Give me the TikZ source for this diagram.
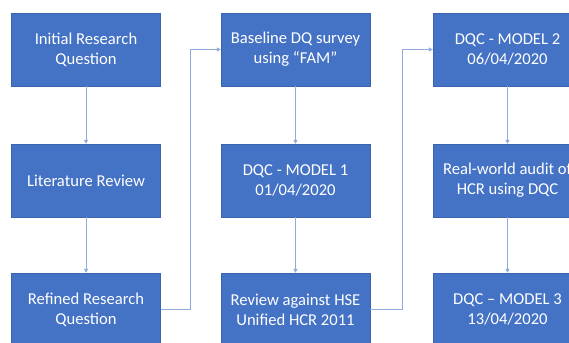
\documentclass[tikz,border=0pt]{standalone}
\usepackage{fontspec}
\setmainfont{Carlito}
\usepackage{xcolor}
\usepackage{tikz}
\definecolor{boxblue}{HTML}{4472C4}
\definecolor{boxedge}{HTML}{3A64AE}
\definecolor{linkblue}{HTML}{8FAADC}
\usetikzlibrary{arrows.meta,positioning}

\begin{document}
\begin{tikzpicture}[x=1pt, y=-1pt, every node/.style={font=\fontsize{16.6}{20}\selectfont}]
    % Define styles
    \tikzstyle{stage} = [rectangle, draw=boxedge, line width=0.4pt, fill=boxblue, text=white,
                         minimum width=149pt, minimum height=73pt, align=center, inner sep=2pt]
    \tikzstyle{link} = [-{Triangle[length=4pt, width=4pt, fill=boxblue]}, draw=linkblue, line width=1pt]

    \useasboundingbox (0,0) rectangle (569,342);
    \clip (0,0) rectangle (569,342);

    % Column 1: research question
    \node[stage] (initial) at (86,49.5) {Initial Research\\Question};
    \node[stage] (litreview) at (86,180.5) {Literature Review};
    \node[stage] (refined) at (86,309.5) {Refined Research\\Question};

    % Column 2: baseline and first model
    \node[stage] (baseline) at (295.5,49.5) {Baseline DQ survey\\using “FAM”};
    \node[stage] (model1) at (295.5,180.5) {DQC - MODEL 1\\01/04/2020};
    \node[stage] (hsereview) at (295.5,309.5) {Review against HSE\\Unified HCR 2011};

    % Column 3: later models and audit
    \node[stage] (model2) at (507.5,49.5) {DQC - MODEL 2\\06/04/2020};
    \node[stage] (audit) at (507.5,180.5) {Real-world audit of\\HCR using DQC};
    \node[stage] (model3) at (507.5,309.5) {DQC – MODEL 3\\13/04/2020};

    % Flow down each column
    \draw[link] (initial) -- (litreview);
    \draw[link] (litreview) -- (refined);
    \draw[link] (baseline) -- (model1);
    \draw[link] (model1) -- (hsereview);
    \draw[link] (model2) -- (audit);
    \draw[link] (audit) -- (model3);

    % Flow between columns
    \draw[link] (refined.east) -- ++(30,0) |- (baseline.west);
    \draw[link] (hsereview.east) -- ++(32,0) |- (model2.west);
\end{tikzpicture}
\end{document}
